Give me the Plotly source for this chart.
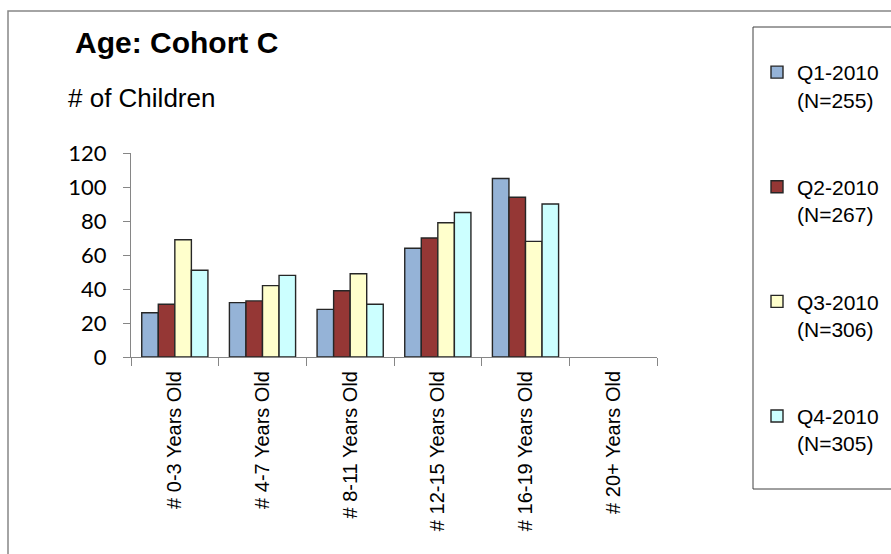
import plotly.graph_objects as go

# data
categories = ["# 0-3 Years Old", "# 4-7 Years Old", "# 8-11 Years Old",
              "# 12-15 Years Old", "# 16-19 Years Old", "# 20+ Years Old"]
series_names = ["Q1-2010<br>(N=255)", "Q2-2010<br>(N=267)",
                "Q3-2010<br>(N=306)", "Q4-2010<br>(N=305)"]
q1_values = [26, 32, 28, 64, 105, None]
q2_values = [31, 33, 39, 70, 94, None]
q3_values = [69, 42, 49, 79, 68, None]
q4_values = [51, 48, 31, 85, 90, None]
y_ticks = [0, 20, 40, 60, 80, 100, 120]

colors = ["#95B3D7", "#953735", "#FFFFCC", "#CCFFFF"]

W, H = 891, 554
L, R, T, B = 131, 234, 153, 197


def px_x(x):
    return (x - L) / (W - L - R)


def px_y(y):
    return (H - B - y) / (H - T - B)


fig = go.Figure()
for i, (name, vals) in enumerate(zip(series_names, [q1_values, q2_values, q3_values, q4_values])):
    fig.add_trace(go.Bar(
        name=name,
        x=categories,
        y=vals,
        marker=dict(color=colors[i], line=dict(color="#262626", width=1.4)),
        legendgroup=f"g{i}",
    ))

fig.update_layout(
    width=W, height=H,
    margin=dict(l=L, r=R, t=T, b=B, autoexpand=False),
    paper_bgcolor="white",
    plot_bgcolor="white",
    barmode="group",
    bargap=0.245,
    bargroupgap=0,
    showlegend=True,
    legend=dict(
        x=px_x(757), y=px_y(52), xanchor="left", yanchor="top",
        font=dict(family="Liberation Sans, Arial", size=21, color="#000000"),
        traceorder="grouped", tracegroupgap=57,
        valign="top",
        maxheight=1,
        bgcolor="rgba(0,0,0,0)",
    ),
    xaxis=dict(
        categoryorder="array", categoryarray=categories,
        automargin=False,
        showline=True, linecolor="#868686", linewidth=1,
        ticks="outside", tickson="boundaries", ticklen=8, tickcolor="#868686",
        tickangle=-90, ticklabelstandoff=5,
        tickfont=dict(family="Liberation Sans, Arial", size=20, color="#000000"),
        showgrid=False,
    ),
    yaxis=dict(
        range=[0, 120], tickvals=y_ticks,
        automargin=False,
        showline=True, linecolor="#868686", linewidth=1,
        ticks="outside", ticklen=7, tickcolor="#868686",
        ticklabelstandoff=12,
        tickfont=dict(family="Lato, Carlito, Calibri", size=22, color="#000000"),
        showgrid=False, zeroline=False,
    ),
    shapes=[
        # outer chart border
        dict(type="rect", xref="paper", yref="paper",
             x0=px_x(8), y0=px_y(600), x1=px_x(950), y1=px_y(11),
             line=dict(color="#868686", width=1.5), fillcolor="rgba(0,0,0,0)"),
        # legend box
        dict(type="rect", xref="paper", yref="paper",
             x0=px_x(753), y0=px_y(489), x1=px_x(950), y1=px_y(27),
             line=dict(color="#404040", width=1), fillcolor="rgba(0,0,0,0)"),
    ],
    annotations=[
        dict(text="<b>Age: Cohort C</b>", xref="paper", yref="paper",
             x=px_x(73), y=px_y(43), xanchor="left", yanchor="middle", showarrow=False,
             font=dict(family="Liberation Sans, Arial", size=30, color="#000000")),
        dict(text="# of Children", xref="paper", yref="paper",
             x=px_x(66), y=px_y(98), xanchor="left", yanchor="middle", showarrow=False,
             font=dict(family="Liberation Sans, Arial", size=26, color="#000000")),
    ],
)

# drop the default page margin so the figure sits at the window's top-left corner
fig.write_html("out.html", config={"displayModeBar": False},
               post_script="document.body.style.margin='0';")
